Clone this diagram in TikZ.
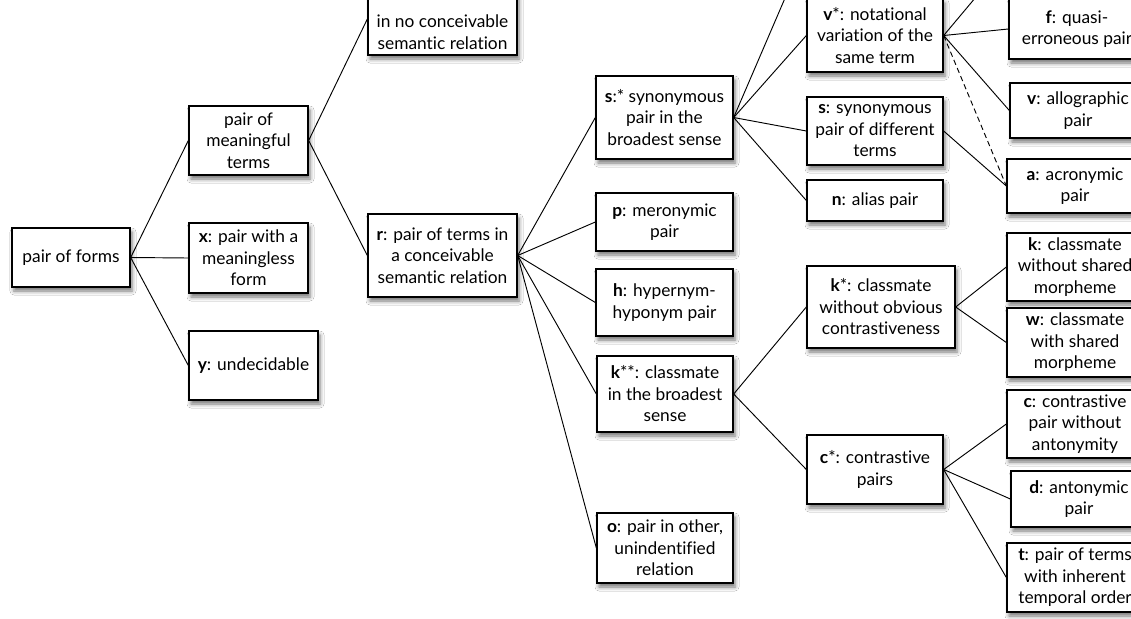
\documentclass[tikz,border=0pt]{standalone}
\usepackage{fontspec}
\setmainfont[Ligatures=NoCommon]{Lato}
\usetikzlibrary{shadows.blur}
\newcommand{\mybox}[7][]{%
  \node[box,#1,minimum width={(#5-#3)*0.75pt},minimum height={(#6-#4)*0.75pt}] (#2) at ({(#3+#5)/2},{(#4+#6)/2}) {#7};}
\tikzset{
  txt/.style={align=center, inner sep=0pt, font=\fontsize{13}{16.1}\selectfont},
  box/.style={txt, draw=black, line width=1pt, fill=white,
    blur shadow={shadow xshift=1.5pt, shadow yshift=-3pt, shadow blur radius=3pt, shadow opacity=55}},
  conn/.style={draw=black, line width=0.7pt},
  dconn/.style={conn, dash pattern=on 4pt off 2.6pt},
}
\begin{document}
\begin{tikzpicture}[x=0.75pt,y=-0.75pt]
\useasboundingbox (0,0) rectangle (1131,618);
\fill[white] (0,0) rectangle (1131,618);
\clip (0,0) rectangle (1131,618);
% column 1
\mybox{pf}{12}{228}{130}{287}{pair of forms}
% column 2
\mybox{mt}{189}{106}{308}{175}{pair of\\meaningful\\terms}
\mybox{x}{189}{223}{308}{293}{\textbf{x}: pair with a\\meaningless\\form}
\mybox{y}{189}{331}{318}{400}{\textbf{y}: undecidable}
% column 3
\mybox{nc}{368}{-17}{517}{55}{}
\node[txt] (nct) at (442.5,32) {in no conceivable\\semantic relation};
\mybox{r}{368}{214}{517}{297}{\textbf{r}: pair of terms in\\a conceivable\\semantic relation}
% column 4
\mybox{ss}{596}{76}{733}{159}{\textbf{s}:* synonymous\\pair in the\\broadest sense}
\mybox{p}{596}{193}{733}{251}{\textbf{p}: meronymic\\pair}
\mybox{h}{596}{269}{733}{336}{\textbf{h}: hypernym-\\hyponym pair}
\mybox{kss}{597}{356}{733}{432}{\textbf{k}**: classmate\\in the broadest\\sense}
\mybox{o}{597}{513}{733}{583}{\textbf{o}: pair in other,\\unindentified\\relation}
% column 5
\mybox{vs}{807}{-1}{943}{72}{\textbf{v}*: notational\\variation of the\\same term}
\mybox{s}{807}{97}{943}{165}{\textbf{s}: synonymous\\pair of different\\terms}
\mybox{n}{807}{180}{943}{221}{\textbf{n}: alias pair}
\mybox{ks}{807}{266}{955}{348}{\textbf{k}*: classmate\\without obvious\\contrastiveness}
\mybox{cs}{807}{435}{943}{504}{\textbf{c}*: contrastive\\pairs}
% column 6
\mybox{f}{1009}{-1}{1145}{59}{\textbf{f}: quasi-\\erroneous pair}
\mybox{v}{1010}{83}{1146}{138}{\textbf{v}: allographic\\pair}
\mybox{a}{1007}{159}{1143}{213}{\textbf{a}: acronymic\\pair}
\mybox{k}{1007}{233}{1143}{301}{\textbf{k}: classmate\\without shared\\morpheme}
\mybox{w}{1007}{308}{1143}{377}{\textbf{w}: classmate\\with shared\\morpheme}
\mybox{c}{1007}{390}{1143}{458}{\textbf{c}: contrastive\\pair without\\antonymity}
\mybox{d}{1011}{471}{1147}{527}{\textbf{d}: antonymic\\pair}
\mybox{t}{1007}{543}{1143}{612}{\textbf{t}: pair of terms\\with inherent\\temporal order}
% hidden targets above the frame
\coordinate (hidA) at (807,-53);
\coordinate (hidB) at (1007,-40);
% connectors
\draw[conn] (pf.east) -- (mt.west);
\draw[conn] (pf.east) -- (x.west);
\draw[conn] (pf.east) -- (y.west);
\draw[conn] (mt.east) -- (nc.west);
\draw[conn] (mt.east) -- (r.west);
\draw[conn] (r.east) -- (ss.west);
\draw[conn] (r.east) -- (p.west);
\draw[conn] (r.east) -- (h.west);
\draw[conn] (r.east) -- (kss.west);
\draw[conn] (r.east) -- (o.west);
\draw[conn] (ss.east) -- (hidA);
\draw[conn] (ss.east) -- (vs.west);
\draw[conn] (ss.east) -- (s.west);
\draw[conn] (ss.east) -- (n.west);
\draw[conn] (vs.east) -- (hidB);
\draw[conn] (vs.east) -- (f.west);
\draw[conn] (vs.east) -- (v.west);
\draw[dconn] (vs.east) -- (a.west);
\draw[conn] (s.east) -- (a.west);
\draw[conn] (kss.east) -- (ks.west);
\draw[conn] (kss.east) -- (cs.west);
\draw[conn] (ks.east) -- (k.west);
\draw[conn] (ks.east) -- (w.west);
\draw[conn] (cs.east) -- (c.west);
\draw[conn] (cs.east) -- (d.west);
\draw[conn] (cs.east) -- (t.west);
\end{tikzpicture}
\end{document}
